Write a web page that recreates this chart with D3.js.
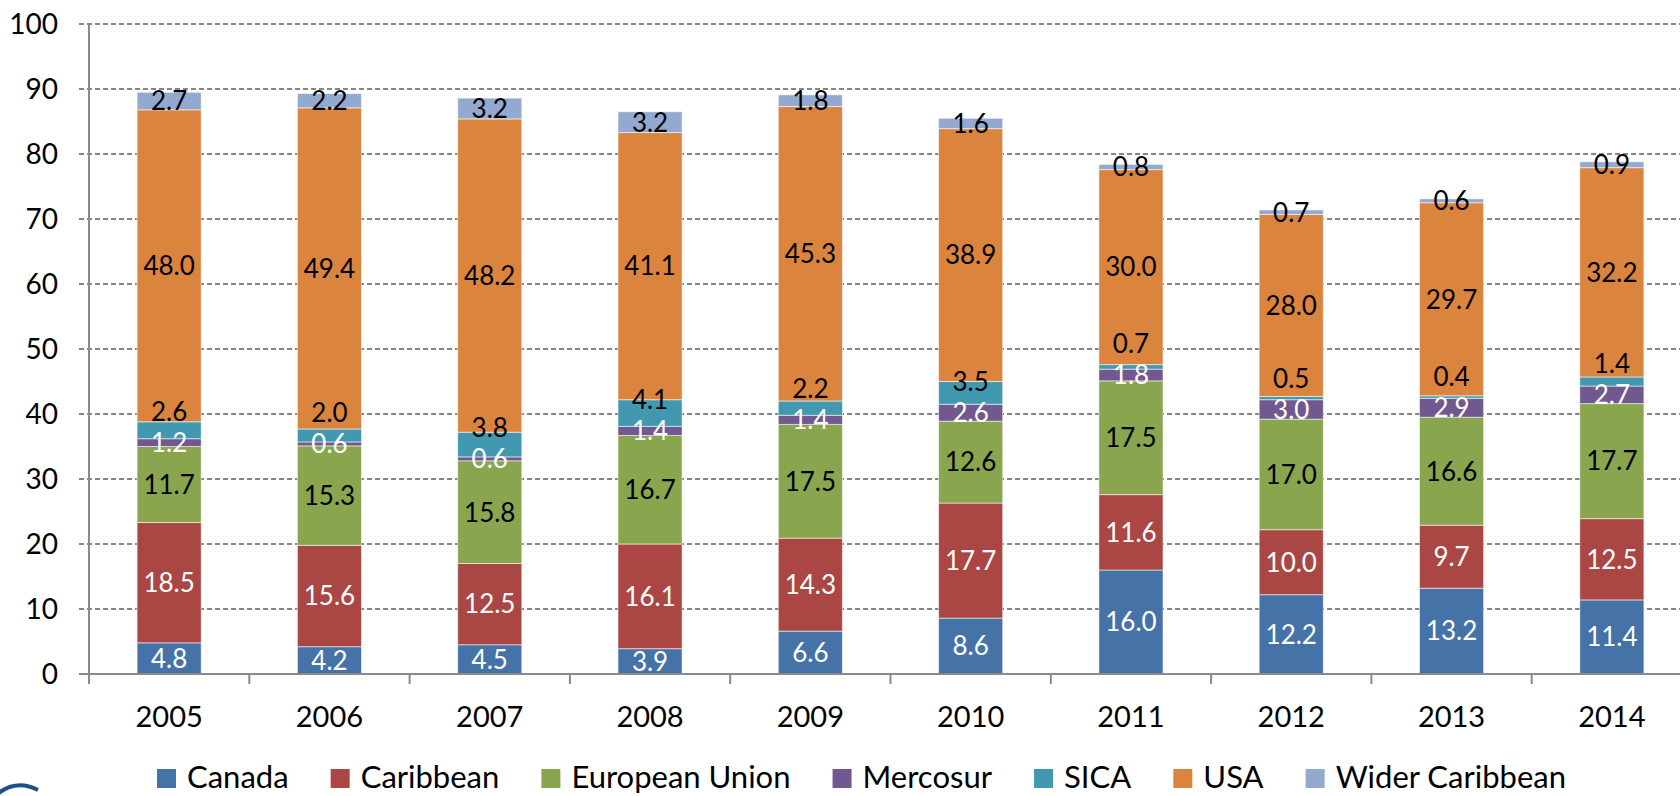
<!DOCTYPE html>
<html>
<head>
<meta charset="utf-8">
<script src="https://cdn.jsdelivr.net/npm/d3@7"></script>
<style>
  html, body { margin: 0; padding: 0; background: #fff; }
  svg { display: block; font-family: Lato, "Open Sans", sans-serif; }
</style>
</head>
<body>
<svg id="chart" width="1680" height="796"></svg>
<script>
const years = ["2005","2006","2007","2008","2009","2010","2011","2012","2013","2014"];
const seriesNames = ["Canada","Caribbean","European Union","Mercosur","SICA","USA","Wider Caribbean"];
const canada   = [4.8, 4.2, 4.5, 3.9, 6.6, 8.6, 16.0, 12.2, 13.2, 11.4];
const caribbean= [18.5, 15.6, 12.5, 16.1, 14.3, 17.7, 11.6, 10.0, 9.7, 12.5];
const eu       = [11.7, 15.3, 15.8, 16.7, 17.5, 12.6, 17.5, 17.0, 16.6, 17.7];
const mercosur = [1.2, 0.6, 0.6, 1.4, 1.4, 2.6, 1.8, 3.0, 2.9, 2.7];
const sica     = [2.6, 2.0, 3.8, 4.1, 2.2, 3.5, 0.7, 0.5, 0.4, 1.4];
const usa      = [48.0, 49.4, 48.2, 41.1, 45.3, 38.9, 30.0, 28.0, 29.7, 32.2];
const wider    = [2.7, 2.2, 3.2, 3.2, 1.8, 1.6, 0.8, 0.7, 0.6, 0.9];
const yTicks   = [0,10,20,30,40,50,60,70,80,90,100];

(function () {
const colors = ["#4572A7","#AA4643","#89A54E","#71588F","#4198AF","#DB843D","#93A9CF"];
const labelColors = ["#fff","#fff","#000","#fff","#000","#000","#000"];
const values = [canada, caribbean, eu, mercosur, sica, usa, wider];

const svg = d3.select("#chart");
const plotLeft = 89, step = 160.3, plotTop = 24, plotBottom = 674;
const x = d3.scaleBand().domain(years).range([plotLeft, plotLeft + step * years.length]).paddingInner(0.6).paddingOuter(0.3);
const y = d3.scaleLinear().domain([0, 100]).range([plotBottom, plotTop]);

// gridlines
svg.append("g").selectAll("line").data(yTicks.filter(d => d > 0)).join("line")
  .attr("x1", 79).attr("x2", 1680)
  .attr("y1", d => y(d)).attr("y2", d => y(d))
  .attr("stroke", "#858585").attr("stroke-width", 2).attr("stroke-dasharray", "5,3");

// y tick labels
svg.append("g").selectAll("text").data(yTicks).join("text")
  .attr("x", 58).attr("y", d => y(d)).attr("dy", "0.36em")
  .attr("text-anchor", "end").attr("font-size", 28).attr("fill", "#000")
  .text(d => d);

// stacked data
const rows = years.map((yr, i) => {
  const o = { year: yr };
  seriesNames.forEach((s, k) => o[s] = values[k][i]);
  return o;
});
const stack = d3.stack().keys(seriesNames)(rows);

const gBars = svg.append("g");
stack.forEach((layer, k) => {
  gBars.append("g").attr("fill", colors[k]).selectAll("rect").data(layer).join("rect")
    .attr("x", d => x(d.data.year))
    .attr("width", x.bandwidth())
    .attr("y", d => y(d[1]))
    .attr("height", d => y(d[0]) - y(d[1]))
    .attr("stroke", "#fff").attr("stroke-opacity", 0.55).attr("stroke-width", 1);
});

// axes lines
svg.append("line").attr("x1", plotLeft).attr("x2", plotLeft).attr("y1", plotTop).attr("y2", plotBottom + 10)
  .attr("stroke", "#8a8a8a").attr("stroke-width", 2);
svg.append("line").attr("x1", 79).attr("x2", 1680).attr("y1", plotBottom).attr("y2", plotBottom)
  .attr("stroke", "#8a8a8a").attr("stroke-width", 2);
svg.append("g").selectAll("line").data(d3.range(years.length + 1)).join("line")
  .attr("x1", i => plotLeft + i * x.step()).attr("x2", i => plotLeft + i * x.step())
  .attr("y1", plotBottom).attr("y2", plotBottom + 10)
  .attr("stroke", "#8a8a8a").attr("stroke-width", 2);

// x labels
svg.append("g").selectAll("text").data(years).join("text")
  .attr("x", d => x(d) + x.bandwidth() / 2).attr("y", 727)
  .attr("text-anchor", "middle").attr("font-size", 29).attr("fill", "#000")
  .text(d => d);

// data labels
const gLab = svg.append("g").attr("font-size", 26).attr("text-anchor", "middle");
const mercIdx = 3, sicaIdx = 4;
stack.forEach((layer, k) => {
  gLab.append("g").attr("fill", labelColors[k]).selectAll("text").data(layer).join("text")
    .attr("x", d => x(d.data.year) + x.bandwidth() / 2)
    .attr("y", (d, i) => {
      let cy = (y(d[0]) + y(d[1])) / 2;
      if (k === sicaIdx) {
        const m = stack[mercIdx][i];
        const my = (y(m[0]) + y(m[1])) / 2;
        cy = Math.min(cy, my - 31);
      }
      return cy;
    })
    .attr("dy", "0.36em")
    .text(d => (d[1] - d[0]).toFixed(1));
});

// legend
const legend = svg.append("g").attr("font-size", 31);
const items = seriesNames.map((s, k) => {
  const g = legend.append("g");
  g.append("rect").attr("width", 19).attr("height", 19).attr("fill", colors[k]);
  const t = g.append("text").attr("x", 30).attr("y", 19).attr("fill", "#000").text(s);
  return { g, w: 30 + t.node().getComputedTextLength() };
});
const lStart = 157, lEnd = 1566;
const totalW = d3.sum(items, d => d.w);
const gap = (lEnd - lStart - totalW) / (items.length - 1);
let cx = lStart;
items.forEach(it => { it.g.attr("transform", `translate(${cx},769)`); cx += it.w + gap; });

// partial logo arc at bottom-left corner
svg.append("path").attr("d", "M -5 796 Q 15 778 38 790").attr("fill", "none")
  .attr("stroke", "#1d4f8a").attr("stroke-width", 4);
})();
</script>
</body>
</html>
